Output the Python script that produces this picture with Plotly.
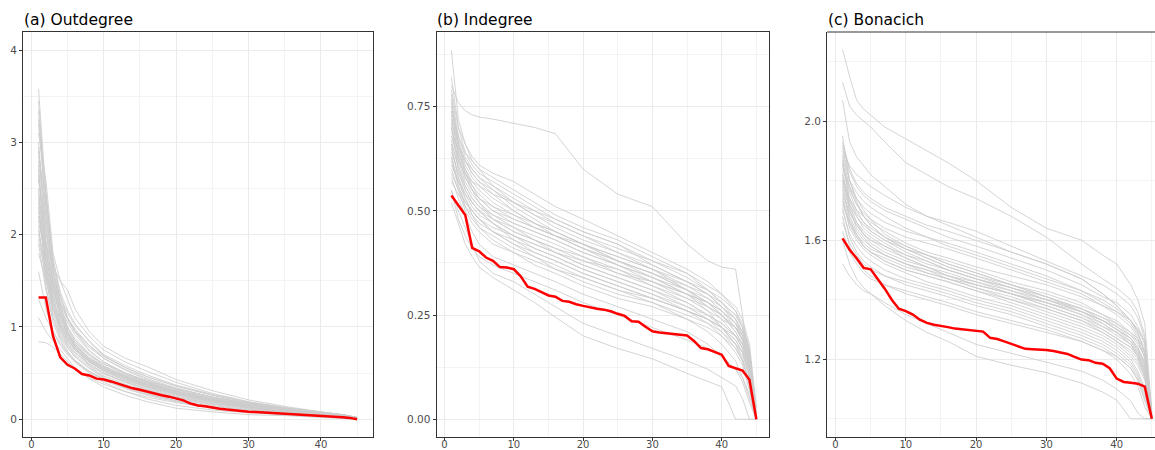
import plotly.graph_objects as go

# Rank positions of the observed (sorted) centrality scores
rank = list(range(1, 46))

# ---------------- (a) Outdegree ----------------
out_knots = [1, 2, 3, 4, 5, 6, 8, 10, 13, 16, 20, 25, 30, 35, 40, 43, 45]
out_sims = [
    [3.58, 2.45, 1.75, 1.35, 1.10, 0.95, 0.75, 0.62, 0.50, 0.40, 0.31, 0.22, 0.15, 0.10, 0.06, 0.04, 0.01],
    [3.35, 2.20, 1.50, 1.15, 0.95, 0.82, 0.66, 0.55, 0.45, 0.37, 0.28, 0.20, 0.14, 0.09, 0.05, 0.03, 0.00],
    [3.10, 2.60, 1.80, 1.50, 1.30, 1.10, 0.90, 0.75, 0.62, 0.52, 0.40, 0.28, 0.19, 0.12, 0.07, 0.05, 0.02],
    [2.95, 1.90, 1.35, 1.05, 0.88, 0.76, 0.62, 0.53, 0.44, 0.36, 0.28, 0.20, 0.13, 0.09, 0.05, 0.03, 0.01],
    [2.80, 2.10, 1.60, 1.25, 1.00, 0.86, 0.70, 0.58, 0.47, 0.39, 0.30, 0.21, 0.15, 0.10, 0.06, 0.04, 0.01],
    [2.70, 1.75, 1.25, 0.98, 0.82, 0.72, 0.60, 0.50, 0.40, 0.33, 0.25, 0.18, 0.12, 0.08, 0.05, 0.03, 0.00],
    [2.60, 1.95, 1.45, 1.15, 0.95, 0.82, 0.66, 0.56, 0.46, 0.38, 0.30, 0.22, 0.16, 0.11, 0.07, 0.04, 0.02],
    [2.50, 1.60, 1.15, 0.92, 0.78, 0.68, 0.56, 0.47, 0.38, 0.31, 0.23, 0.16, 0.11, 0.07, 0.04, 0.02, 0.00],
    [2.40, 1.80, 1.40, 1.20, 1.05, 0.92, 0.74, 0.62, 0.50, 0.41, 0.32, 0.23, 0.16, 0.11, 0.07, 0.05, 0.02],
    [2.30, 1.55, 1.10, 0.88, 0.74, 0.64, 0.52, 0.44, 0.36, 0.29, 0.22, 0.15, 0.10, 0.07, 0.04, 0.03, 0.01],
    [2.20, 1.70, 1.30, 1.05, 0.90, 0.80, 0.66, 0.57, 0.48, 0.40, 0.31, 0.22, 0.15, 0.10, 0.06, 0.04, 0.01],
    [2.10, 1.45, 1.05, 0.85, 0.72, 0.63, 0.51, 0.42, 0.33, 0.26, 0.19, 0.13, 0.09, 0.06, 0.04, 0.02, 0.00],
    [2.00, 1.65, 1.35, 1.15, 1.00, 0.88, 0.71, 0.60, 0.49, 0.41, 0.33, 0.24, 0.17, 0.12, 0.08, 0.05, 0.02],
    [1.90, 1.40, 1.10, 0.90, 0.78, 0.68, 0.55, 0.45, 0.37, 0.31, 0.24, 0.17, 0.12, 0.08, 0.05, 0.03, 0.01],
    [1.80, 1.50, 1.20, 1.00, 0.85, 0.75, 0.62, 0.52, 0.43, 0.36, 0.28, 0.20, 0.14, 0.09, 0.06, 0.04, 0.01],
    [2.20, 1.90, 1.65, 1.50, 1.40, 1.20, 0.95, 0.79, 0.66, 0.57, 0.43, 0.31, 0.21, 0.14, 0.08, 0.05, 0.02],
    [1.60, 1.20, 0.95, 0.80, 0.70, 0.62, 0.50, 0.40, 0.30, 0.22, 0.15, 0.10, 0.07, 0.05, 0.03, 0.02, 0.00],
    [1.10, 0.95, 0.85, 0.75, 0.65, 0.56, 0.44, 0.35, 0.26, 0.19, 0.12, 0.08, 0.05, 0.04, 0.02, 0.01, 0.00],
    [0.84, 0.83, 0.78, 0.70, 0.62, 0.55, 0.45, 0.38, 0.30, 0.24, 0.18, 0.12, 0.08, 0.05, 0.03, 0.02, 0.00],
    [3.20, 2.30, 1.60, 1.20, 0.95, 0.78, 0.58, 0.45, 0.35, 0.28, 0.20, 0.13, 0.09, 0.06, 0.04, 0.02, 0.00],
    [2.85, 2.40, 1.70, 1.30, 1.10, 0.96, 0.80, 0.68, 0.56, 0.46, 0.36, 0.26, 0.18, 0.12, 0.08, 0.05, 0.02],
    [1.30, 1.10, 0.95, 0.82, 0.72, 0.64, 0.52, 0.43, 0.34, 0.27, 0.20, 0.14, 0.10, 0.07, 0.04, 0.03, 0.01],
    [3.00, 2.05, 1.45, 1.10, 0.90, 0.78, 0.63, 0.52, 0.42, 0.35, 0.27, 0.19, 0.13, 0.09, 0.05, 0.03, 0.01],
    [2.65, 1.85, 1.30, 1.02, 0.86, 0.76, 0.63, 0.54, 0.45, 0.37, 0.29, 0.21, 0.15, 0.10, 0.06, 0.04, 0.01],
    [2.35, 1.62, 1.20, 0.97, 0.83, 0.73, 0.60, 0.50, 0.41, 0.34, 0.26, 0.19, 0.13, 0.09, 0.05, 0.03, 0.01],
    [2.15, 1.75, 1.40, 1.12, 0.92, 0.80, 0.64, 0.53, 0.43, 0.35, 0.27, 0.19, 0.13, 0.09, 0.06, 0.04, 0.01],
    [3.25, 2.50, 1.65, 1.22, 0.98, 0.84, 0.68, 0.57, 0.47, 0.39, 0.30, 0.21, 0.14, 0.09, 0.05, 0.03, 0.00],
    [1.95, 1.55, 1.25, 1.02, 0.87, 0.77, 0.64, 0.55, 0.46, 0.38, 0.30, 0.22, 0.16, 0.11, 0.07, 0.04, 0.02],
    [2.75, 1.70, 1.20, 0.95, 0.80, 0.70, 0.58, 0.49, 0.40, 0.32, 0.24, 0.17, 0.12, 0.08, 0.05, 0.03, 0.00],
    [2.45, 1.90, 1.50, 1.25, 1.08, 0.95, 0.78, 0.66, 0.54, 0.44, 0.34, 0.24, 0.17, 0.11, 0.07, 0.04, 0.01],
    [2.60, 2.05, 1.60, 1.32, 1.15, 1.02, 0.85, 0.70, 0.58, 0.48, 0.37, 0.27, 0.19, 0.13, 0.08, 0.05, 0.02],
    [2.90, 2.20, 1.70, 1.38, 1.18, 1.04, 0.84, 0.69, 0.56, 0.46, 0.36, 0.26, 0.18, 0.12, 0.07, 0.04, 0.01],
    [2.25, 1.80, 1.48, 1.26, 1.10, 0.98, 0.80, 0.66, 0.53, 0.43, 0.33, 0.24, 0.17, 0.12, 0.07, 0.05, 0.02],
    [3.45, 2.35, 1.55, 1.15, 0.93, 0.80, 0.65, 0.55, 0.45, 0.37, 0.29, 0.21, 0.15, 0.10, 0.06, 0.04, 0.01],
    [2.05, 1.60, 1.30, 1.08, 0.94, 0.84, 0.70, 0.60, 0.50, 0.42, 0.33, 0.24, 0.17, 0.11, 0.07, 0.04, 0.01],
]
out_obs = [1.32, 1.32, 0.90, 0.67, 0.59, 0.55, 0.49, 0.475, 0.44, 0.43, 0.41, 0.385, 0.36, 0.335, 0.32,
           0.30, 0.275, 0.26, 0.245, 0.225, 0.205, 0.17, 0.15, 0.14, 0.125, 0.115, 0.105, 0.095, 0.088, 0.082,
           0.078, 0.074, 0.07, 0.065, 0.058, 0.052, 0.048, 0.045, 0.04, 0.036, 0.032, 0.028, 0.022, 0.015, 0.0]

# ---------------- (b) Indegree ----------------
in_knots = [1, 2, 3, 4, 5, 7, 10, 13, 16, 20, 25, 30, 35, 38, 40, 42, 43, 44, 45]
in_sims = [
    [0.80, 0.76, 0.74, 0.73, 0.725, 0.72, 0.71, 0.70, 0.685, 0.60, 0.54, 0.51, 0.42, 0.38, 0.365, 0.36, 0.25, 0.12, 0.0],
    [0.52, 0.47, 0.42, 0.39, 0.365, 0.34, 0.31, 0.28, 0.245, 0.20, 0.17, 0.145, 0.11, 0.09, 0.078, 0.0, 0.0, 0.0, 0.0],
    [0.55, 0.50, 0.46, 0.42, 0.38, 0.35, 0.33, 0.30, 0.27, 0.23, 0.20, 0.17, 0.14, 0.12, 0.10, 0.08, 0.05, 0.0, 0.0],
    [0.885, 0.72, 0.66, 0.62, 0.60, 0.56, 0.52, 0.49, 0.46, 0.43, 0.40, 0.36, 0.31, 0.27, 0.24, 0.20, 0.17, 0.10, 0.0],
    [0.78, 0.68, 0.63, 0.60, 0.58, 0.55, 0.51, 0.48, 0.45, 0.42, 0.38, 0.34, 0.30, 0.26, 0.22, 0.18, 0.15, 0.08, 0.0],
    [0.75, 0.66, 0.60, 0.57, 0.55, 0.52, 0.49, 0.46, 0.44, 0.41, 0.37, 0.33, 0.29, 0.27, 0.25, 0.22, 0.19, 0.12, 0.0],
    [0.72, 0.64, 0.60, 0.56, 0.53, 0.50, 0.47, 0.45, 0.43, 0.40, 0.37, 0.34, 0.31, 0.28, 0.26, 0.23, 0.20, 0.14, 0.0],
    [0.70, 0.62, 0.57, 0.54, 0.52, 0.49, 0.46, 0.43, 0.40, 0.37, 0.34, 0.31, 0.27, 0.24, 0.21, 0.17, 0.14, 0.09, 0.0],
    [0.68, 0.63, 0.58, 0.55, 0.53, 0.51, 0.48, 0.46, 0.44, 0.41, 0.38, 0.35, 0.32, 0.30, 0.28, 0.25, 0.22, 0.16, 0.0],
    [0.66, 0.58, 0.54, 0.51, 0.49, 0.47, 0.44, 0.42, 0.40, 0.37, 0.34, 0.31, 0.28, 0.25, 0.23, 0.20, 0.17, 0.11, 0.0],
    [0.64, 0.59, 0.55, 0.52, 0.50, 0.47, 0.43, 0.40, 0.38, 0.35, 0.32, 0.29, 0.26, 0.23, 0.20, 0.16, 0.13, 0.07, 0.0],
    [0.62, 0.56, 0.52, 0.50, 0.48, 0.45, 0.42, 0.39, 0.37, 0.34, 0.31, 0.28, 0.24, 0.21, 0.18, 0.14, 0.10, 0.05, 0.0],
    [0.76, 0.67, 0.62, 0.59, 0.57, 0.54, 0.50, 0.47, 0.45, 0.42, 0.39, 0.36, 0.33, 0.31, 0.28, 0.25, 0.22, 0.17, 0.02],
    [0.60, 0.55, 0.50, 0.47, 0.45, 0.42, 0.40, 0.37, 0.35, 0.32, 0.29, 0.27, 0.24, 0.22, 0.20, 0.17, 0.14, 0.08, 0.0],
    [0.58, 0.53, 0.49, 0.45, 0.42, 0.39, 0.37, 0.35, 0.33, 0.30, 0.27, 0.24, 0.21, 0.18, 0.15, 0.12, 0.09, 0.04, 0.0],
    [0.69, 0.65, 0.62, 0.60, 0.58, 0.56, 0.53, 0.50, 0.47, 0.44, 0.41, 0.38, 0.35, 0.32, 0.30, 0.27, 0.24, 0.18, 0.03],
    [0.74, 0.65, 0.59, 0.55, 0.52, 0.48, 0.45, 0.43, 0.41, 0.38, 0.36, 0.33, 0.30, 0.28, 0.25, 0.21, 0.18, 0.13, 0.0],
    [0.66, 0.61, 0.56, 0.53, 0.51, 0.48, 0.45, 0.43, 0.41, 0.39, 0.36, 0.32, 0.28, 0.25, 0.22, 0.18, 0.14, 0.09, 0.0],
    [0.57, 0.54, 0.51, 0.49, 0.47, 0.45, 0.43, 0.41, 0.39, 0.36, 0.33, 0.30, 0.26, 0.24, 0.22, 0.20, 0.17, 0.12, 0.0],
    [0.71, 0.60, 0.55, 0.52, 0.50, 0.48, 0.46, 0.44, 0.42, 0.39, 0.35, 0.32, 0.29, 0.26, 0.24, 0.22, 0.20, 0.15, 0.01],
    [0.63, 0.57, 0.53, 0.49, 0.46, 0.44, 0.41, 0.39, 0.36, 0.33, 0.30, 0.28, 0.25, 0.23, 0.21, 0.18, 0.16, 0.11, 0.0],
    [0.82, 0.70, 0.64, 0.61, 0.59, 0.57, 0.54, 0.51, 0.48, 0.45, 0.42, 0.37, 0.33, 0.30, 0.27, 0.23, 0.19, 0.13, 0.0],
    [0.55, 0.48, 0.44, 0.41, 0.39, 0.37, 0.35, 0.33, 0.31, 0.28, 0.25, 0.22, 0.19, 0.17, 0.15, 0.12, 0.10, 0.06, 0.0],
    [0.67, 0.60, 0.56, 0.53, 0.51, 0.49, 0.47, 0.45, 0.43, 0.40, 0.37, 0.34, 0.30, 0.27, 0.25, 0.21, 0.18, 0.12, 0.0],
    [0.73, 0.63, 0.58, 0.55, 0.53, 0.50, 0.48, 0.46, 0.44, 0.42, 0.38, 0.35, 0.31, 0.29, 0.27, 0.24, 0.21, 0.15, 0.0],
    [0.61, 0.57, 0.54, 0.52, 0.50, 0.47, 0.44, 0.41, 0.39, 0.36, 0.33, 0.30, 0.27, 0.25, 0.23, 0.20, 0.18, 0.13, 0.0],
    [0.70, 0.64, 0.59, 0.56, 0.54, 0.51, 0.49, 0.47, 0.45, 0.42, 0.39, 0.36, 0.32, 0.29, 0.26, 0.22, 0.19, 0.14, 0.0],
    [0.65, 0.58, 0.53, 0.50, 0.48, 0.46, 0.44, 0.42, 0.40, 0.38, 0.35, 0.33, 0.30, 0.28, 0.26, 0.23, 0.21, 0.16, 0.0],
    [0.77, 0.66, 0.61, 0.58, 0.56, 0.53, 0.50, 0.47, 0.44, 0.41, 0.38, 0.35, 0.31, 0.28, 0.25, 0.22, 0.19, 0.14, 0.0],
    [0.59, 0.55, 0.52, 0.50, 0.48, 0.45, 0.42, 0.40, 0.38, 0.35, 0.32, 0.29, 0.26, 0.24, 0.22, 0.19, 0.16, 0.10, 0.0],
    [0.79, 0.70, 0.66, 0.63, 0.61, 0.59, 0.57, 0.54, 0.51, 0.48, 0.44, 0.40, 0.36, 0.33, 0.30, 0.26, 0.22, 0.15, 0.0],
    [0.74, 0.68, 0.64, 0.62, 0.60, 0.58, 0.55, 0.52, 0.49, 0.46, 0.43, 0.39, 0.35, 0.31, 0.28, 0.24, 0.20, 0.13, 0.0],
    [0.68, 0.62, 0.59, 0.57, 0.56, 0.54, 0.52, 0.50, 0.48, 0.45, 0.42, 0.38, 0.34, 0.31, 0.29, 0.26, 0.23, 0.17, 0.0],
    [0.63, 0.56, 0.51, 0.48, 0.46, 0.43, 0.40, 0.38, 0.36, 0.34, 0.31, 0.29, 0.26, 0.24, 0.22, 0.19, 0.16, 0.10, 0.0],
    [0.72, 0.66, 0.62, 0.59, 0.57, 0.55, 0.52, 0.49, 0.47, 0.44, 0.40, 0.37, 0.33, 0.30, 0.27, 0.24, 0.21, 0.16, 0.0],
]
in_obs = [0.537, 0.512, 0.49, 0.411, 0.403, 0.388, 0.38, 0.365, 0.364, 0.36, 0.343, 0.318, 0.313, 0.305, 0.297,
          0.294, 0.284, 0.282, 0.276, 0.272, 0.268, 0.265, 0.263, 0.259, 0.253, 0.248, 0.235, 0.234, 0.222, 0.211,
          0.208, 0.206, 0.204, 0.202, 0.201, 0.188, 0.171, 0.168, 0.162, 0.155, 0.128, 0.123, 0.117, 0.095, 0.0]

# ---------------- (c) Bonacich ----------------
bon_knots = [1, 2, 3, 4, 5, 7, 10, 13, 16, 20, 25, 30, 35, 38, 40, 42, 43, 44, 45]
bon_sims = [
    [2.24, 2.15, 2.07, 2.04, 2.02, 1.98, 1.94, 1.90, 1.86, 1.80, 1.71, 1.64, 1.60, 1.55, 1.52, 1.45, 1.40, 1.32, 1.02],
    [2.13, 2.05, 2.02, 2.00, 1.98, 1.93, 1.86, 1.82, 1.78, 1.74, 1.68, 1.61, 1.52, 1.47, 1.44, 1.40, 1.36, 1.28, 1.00],
    [2.07, 1.93, 1.88, 1.85, 1.82, 1.78, 1.72, 1.68, 1.65, 1.61, 1.56, 1.52, 1.47, 1.42, 1.38, 1.33, 1.29, 1.22, 1.00],
    [1.93, 1.84, 1.79, 1.76, 1.74, 1.71, 1.68, 1.65, 1.63, 1.60, 1.56, 1.52, 1.47, 1.42, 1.38, 1.33, 1.29, 1.22, 1.00],
    [1.91, 1.80, 1.74, 1.70, 1.67, 1.62, 1.58, 1.55, 1.52, 1.49, 1.45, 1.41, 1.36, 1.33, 1.30, 1.27, 1.24, 1.18, 1.00],
    [1.88, 1.78, 1.72, 1.68, 1.65, 1.61, 1.57, 1.55, 1.53, 1.50, 1.46, 1.43, 1.39, 1.35, 1.32, 1.28, 1.25, 1.21, 1.02],
    [1.86, 1.74, 1.68, 1.65, 1.63, 1.60, 1.56, 1.53, 1.50, 1.47, 1.43, 1.39, 1.35, 1.31, 1.28, 1.25, 1.22, 1.17, 1.00],
    [1.84, 1.78, 1.74, 1.71, 1.69, 1.66, 1.63, 1.61, 1.59, 1.56, 1.52, 1.48, 1.43, 1.39, 1.36, 1.32, 1.28, 1.24, 1.03],
    [1.82, 1.70, 1.64, 1.61, 1.58, 1.55, 1.52, 1.50, 1.47, 1.44, 1.40, 1.37, 1.33, 1.29, 1.26, 1.22, 1.19, 1.14, 1.00],
    [1.80, 1.72, 1.68, 1.64, 1.62, 1.59, 1.55, 1.52, 1.50, 1.47, 1.44, 1.41, 1.37, 1.34, 1.31, 1.27, 1.23, 1.19, 1.00],
    [1.78, 1.67, 1.62, 1.58, 1.56, 1.53, 1.50, 1.48, 1.46, 1.43, 1.39, 1.35, 1.31, 1.28, 1.25, 1.21, 1.18, 1.13, 1.00],
    [1.76, 1.69, 1.65, 1.62, 1.60, 1.57, 1.54, 1.51, 1.48, 1.45, 1.42, 1.39, 1.36, 1.33, 1.31, 1.28, 1.26, 1.22, 1.01],
    [1.74, 1.64, 1.60, 1.57, 1.55, 1.52, 1.49, 1.46, 1.44, 1.41, 1.38, 1.34, 1.30, 1.27, 1.24, 1.20, 1.16, 1.10, 1.00],
    [1.72, 1.66, 1.62, 1.59, 1.57, 1.55, 1.52, 1.49, 1.47, 1.45, 1.42, 1.38, 1.34, 1.31, 1.29, 1.26, 1.23, 1.18, 1.00],
    [1.70, 1.62, 1.58, 1.55, 1.53, 1.50, 1.47, 1.45, 1.43, 1.40, 1.37, 1.33, 1.29, 1.26, 1.23, 1.19, 1.15, 1.09, 1.00],
    [1.66, 1.59, 1.55, 1.52, 1.50, 1.48, 1.46, 1.44, 1.42, 1.39, 1.36, 1.32, 1.28, 1.25, 1.22, 1.18, 1.14, 1.08, 1.00],
    [1.60, 1.52, 1.47, 1.44, 1.42, 1.39, 1.35, 1.32, 1.29, 1.25, 1.22, 1.19, 1.16, 1.13, 1.10, 1.06, 1.02, 1.00, 1.00],
    [1.52, 1.48, 1.45, 1.43, 1.42, 1.38, 1.33, 1.29, 1.26, 1.21, 1.18, 1.155, 1.12, 1.09, 1.063, 1.00, 1.00, 1.00, 1.00],
    [1.68, 1.58, 1.53, 1.50, 1.48, 1.45, 1.42, 1.40, 1.38, 1.35, 1.32, 1.29, 1.26, 1.23, 1.21, 1.17, 1.13, 1.06, 1.00],
    [1.90, 1.85, 1.82, 1.80, 1.78, 1.75, 1.71, 1.68, 1.66, 1.63, 1.58, 1.53, 1.48, 1.45, 1.42, 1.38, 1.34, 1.27, 1.00],
    [1.87, 1.72, 1.66, 1.62, 1.59, 1.56, 1.53, 1.51, 1.49, 1.46, 1.42, 1.38, 1.34, 1.30, 1.27, 1.24, 1.21, 1.15, 1.00],
    [1.81, 1.73, 1.69, 1.66, 1.63, 1.60, 1.57, 1.54, 1.51, 1.48, 1.45, 1.41, 1.37, 1.33, 1.30, 1.26, 1.22, 1.16, 1.00],
    [1.85, 1.76, 1.70, 1.66, 1.64, 1.61, 1.58, 1.55, 1.52, 1.49, 1.45, 1.42, 1.38, 1.35, 1.33, 1.29, 1.26, 1.21, 1.00],
    [1.79, 1.70, 1.65, 1.62, 1.60, 1.58, 1.55, 1.53, 1.50, 1.47, 1.44, 1.40, 1.36, 1.33, 1.30, 1.27, 1.24, 1.19, 1.00],
    [1.89, 1.80, 1.76, 1.73, 1.71, 1.68, 1.64, 1.61, 1.58, 1.55, 1.51, 1.47, 1.43, 1.40, 1.37, 1.33, 1.30, 1.25, 1.02],
    [1.75, 1.66, 1.61, 1.58, 1.56, 1.54, 1.51, 1.49, 1.47, 1.44, 1.41, 1.37, 1.33, 1.30, 1.27, 1.24, 1.21, 1.16, 1.00],
    [1.83, 1.71, 1.66, 1.63, 1.61, 1.58, 1.54, 1.51, 1.48, 1.45, 1.42, 1.39, 1.35, 1.32, 1.29, 1.25, 1.22, 1.17, 1.00],
    [1.73, 1.65, 1.61, 1.58, 1.56, 1.53, 1.50, 1.48, 1.46, 1.43, 1.40, 1.36, 1.32, 1.29, 1.26, 1.23, 1.20, 1.14, 1.00],
    [1.77, 1.68, 1.63, 1.60, 1.58, 1.55, 1.52, 1.50, 1.48, 1.46, 1.43, 1.40, 1.37, 1.34, 1.32, 1.29, 1.27, 1.23, 1.01],
    [1.92, 1.83, 1.78, 1.75, 1.73, 1.70, 1.67, 1.64, 1.61, 1.58, 1.54, 1.50, 1.45, 1.41, 1.39, 1.35, 1.31, 1.26, 1.00],
    [1.86, 1.77, 1.72, 1.69, 1.67, 1.64, 1.61, 1.59, 1.57, 1.54, 1.50, 1.46, 1.42, 1.38, 1.35, 1.31, 1.27, 1.20, 1.00],
    [1.71, 1.61, 1.56, 1.53, 1.51, 1.48, 1.45, 1.43, 1.41, 1.38, 1.35, 1.31, 1.27, 1.24, 1.21, 1.17, 1.13, 1.07, 1.00],
    [1.80, 1.74, 1.70, 1.68, 1.66, 1.63, 1.59, 1.56, 1.54, 1.51, 1.48, 1.45, 1.41, 1.38, 1.36, 1.33, 1.30, 1.26, 1.01],
    [1.95, 1.80, 1.73, 1.68, 1.65, 1.61, 1.57, 1.54, 1.51, 1.48, 1.44, 1.40, 1.36, 1.32, 1.29, 1.25, 1.21, 1.15, 1.00],
    [1.63, 1.56, 1.52, 1.49, 1.47, 1.45, 1.43, 1.41, 1.39, 1.36, 1.33, 1.30, 1.26, 1.23, 1.20, 1.15, 1.11, 1.04, 1.00],
]
bon_obs = [1.606, 1.568, 1.539, 1.507, 1.502, 1.47, 1.437, 1.40, 1.37, 1.362, 1.35, 1.333, 1.322, 1.316, 1.313,
           1.308, 1.303, 1.300, 1.297, 1.295, 1.293, 1.272, 1.268, 1.26, 1.252, 1.243, 1.235, 1.234, 1.233, 1.231,
           1.228, 1.222, 1.218, 1.208, 1.199, 1.197, 1.188, 1.185, 1.17, 1.135, 1.124, 1.121, 1.118, 1.108, 1.0]

titles = ["(a) Outdegree", "(b) Indegree", "(c) Bonacich"]

FONT = "DejaVu Sans"
SIM_COLOR = "rgba(205,205,205,0.85)"
OBS_COLOR = "#ff0000"
GRID = "#ebebeb"
MINOR_GRID = "#f3f3f3"
BORDER = "#333333"

W, H = 1155, 450
TOP_PX, BOTTOM_PX = 32, 437
y_dom = [1 - BOTTOM_PX / H, 1 - TOP_PX / H]

panels = [
    dict(knots=out_knots, sims=out_sims, obs=out_obs,
         xdom=[23 / W, 373 / W], xrange=[-1.15, 47.2],
         yrange=[-0.192, 4.195], ytickvals=[0, 1, 2, 3, 4], yticktext=["0", "1", "2", "3", "4"],
         yminor=[0.5, 1.5, 2.5, 3.5], title_x=21.5 / W),
    dict(knots=in_knots, sims=in_sims, obs=in_obs,
         xdom=[436.5 / W, 768.5 / W], xrange=[-1.15, 46.75],
         yrange=[-0.0425, 0.929], ytickvals=[0, 0.25, 0.5, 0.75], yticktext=["0.00", "0.25", "0.50", "0.75"],
         yminor=[0.125, 0.375, 0.625, 0.875], title_x=435 / W),
    dict(knots=bon_knots, sims=bon_sims, obs=bon_obs,
         xdom=[827.1 / W, 1.0], xrange=[-1.2, 45.45],
         yrange=[0.939, 2.299], ytickvals=[1.2, 1.6, 2.0], yticktext=["1.2", "1.6", "2.0"],
         yminor=[1.0, 1.4, 1.8, 2.2], title_x=825.6 / W),
]

fig = go.Figure()
layout_axes = {}
annotations = []
shapes = []

for i, p in enumerate(panels):
    n = "" if i == 0 else str(i + 1)
    xa, ya = "x" + n, "y" + n
    for s in p["sims"]:
        fig.add_trace(go.Scatter(x=p["knots"], y=s, mode="lines",
                                 line=dict(color=SIM_COLOR, width=1.0),
                                 xaxis=xa, yaxis=ya, showlegend=False, hoverinfo="skip"))
    fig.add_trace(go.Scatter(x=rank, y=p["obs"], mode="lines",
                             line=dict(color=OBS_COLOR, width=2.5),
                             xaxis=xa, yaxis=ya, showlegend=False))

    last = i == len(panels) - 1
    common = dict(
        showgrid=True, gridcolor=GRID, gridwidth=1.1, zeroline=False, automargin=False,
        showline=True, linecolor=BORDER, linewidth=1, mirror=not last,
        ticks="outside", ticklen=3, tickcolor=BORDER, tickwidth=1,
    )
    layout_axes["xaxis" + n] = dict(
        domain=p["xdom"], range=p["xrange"], anchor=ya,
        tickvals=[0, 10, 20, 30, 40], ticktext=["0", "10", "20", "30", "40"],
        minor=dict(tickvals=[5, 15, 25, 35, 45], showgrid=True, gridcolor=MINOR_GRID, gridwidth=0.6),
        # labels pulled up so they stay inside the short bottom strip
        ticklabelstandoff=-5,
        tickfont=dict(family=FONT, size=10, color="#4d4d4d"),
        **common,
    )
    layout_axes["yaxis" + n] = dict(
        domain=y_dom, range=p["yrange"], anchor=xa,
        tickvals=p["ytickvals"], ticktext=p["yticktext"],
        minor=dict(tickvals=p["yminor"], showgrid=True, gridcolor=MINOR_GRID, gridwidth=0.6),
        tickfont=dict(family=FONT, size=10.5, color="#4d4d4d"),
        **common,
    )
    if last:
        # the right edge runs off the canvas, so only the top border is added
        shapes.append(dict(type="line", xref=xa + " domain", yref=ya + " domain",
                           x0=0, x1=1, y0=1, y1=1, line=dict(color=BORDER, width=1)))
    annotations.append(dict(text=titles[i], x=p["title_x"], y=1 - 19.5 / H,
                            xref="paper", yref="paper", xanchor="left", yanchor="middle",
                            showarrow=False, font=dict(family=FONT, size=15.5, color="#000000")))

fig.update_layout(
    width=W, height=H, autosize=False,
    margin=dict(l=0, r=0, t=0, b=0),
    paper_bgcolor="white", plot_bgcolor="white",
    annotations=annotations, shapes=shapes,
    **layout_axes,
)

fig.write_html("out.html")
